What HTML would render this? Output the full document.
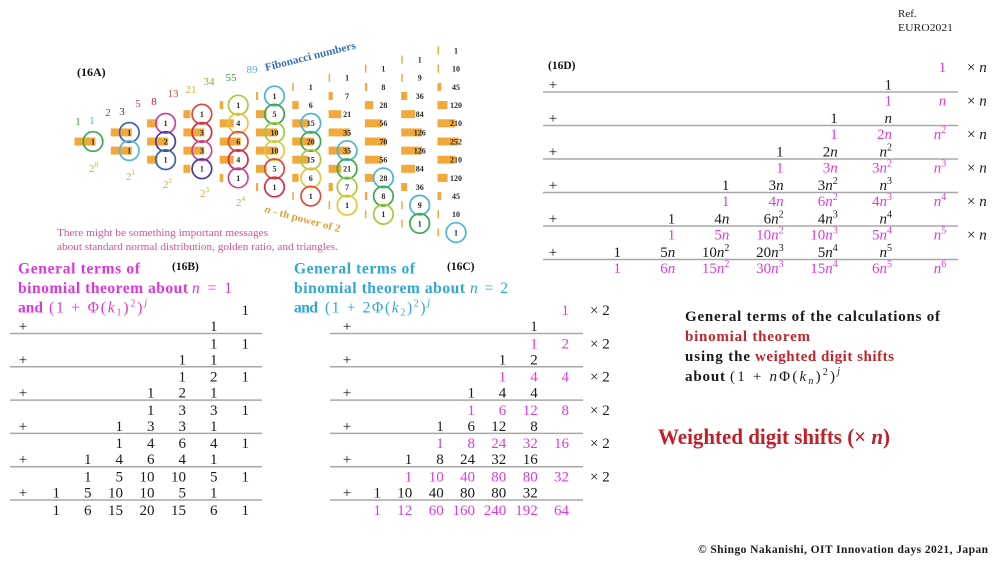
<!DOCTYPE html>
<html><head><meta charset="utf-8"><style>
html,body{margin:0;padding:0;background:#fff;}
svg{display:block;}
.t{font-family:"Liberation Serif",serif;}
.tb text{font-family:"Liberation Serif",serif;font-size:15px;text-anchor:end;fill:#1a1a1a;}
.tb .m{fill:#dc3cdc;}
.i{font-style:italic;}
.s{font-size:10px;}
.num text{font-family:"Liberation Serif",serif;font-weight:bold;font-size:8px;text-anchor:middle;fill:#2a2a2a;}
</style></head><body>
<svg width="1000" height="563" viewBox="0 0 1000 563" xmlns="http://www.w3.org/2000/svg">
<rect width="1000" height="563" fill="#fff"/>

<!-- Ref -->
<text class="t" x="898" y="17" font-size="11" fill="#222">Ref.</text>
<text class="t" x="898" y="31" font-size="11" fill="#222" textLength="55" lengthAdjust="spacingAndGlyphs">EURO2021</text>

<!-- 16A -->
<text class="t" x="77" y="76" font-size="12" font-weight="bold" fill="#111">(16A)</text>
<g class="t" font-size="11" text-anchor="middle">
<text x="78" y="125" fill="#3a9a4a">1</text>
<text x="92" y="124" fill="#50b0c0">1</text>
<text x="108" y="116" fill="#3a5aa8">2</text>
<text x="122" y="115" fill="#2a3c80">3</text>
<text x="138" y="107" fill="#c84098">5</text>
<text x="154" y="105" fill="#c82050">8</text>
<text x="173" y="97" fill="#c84a44">13</text>
<text x="191" y="93" fill="#e0b040">21</text>
<text x="209" y="85" fill="#80b040">34</text>
<text x="231" y="81" fill="#40a050">55</text>
<text x="252" y="73" fill="#60b0d0">89</text>
</g>
<text class="t" x="266" y="71" font-size="11" font-weight="bold" fill="#3b6fb0" transform="rotate(-14 266 71)" textLength="93" lengthAdjust="spacingAndGlyphs">Fibonacci numbers</text>

<!-- bars -->
<g fill="#f2a93b" transform="translate(0,-0.5)">
<rect x="74.5" y="138" width="21" height="8"/>
<rect x="110.8" y="128.9" width="21" height="8"/><rect x="110.8" y="147.1" width="21" height="8"/>
<rect x="147.1" y="119.8" width="10.5" height="8"/><rect x="147.1" y="138" width="21" height="8"/><rect x="147.1" y="156.2" width="10.5" height="8"/>
<rect x="183.4" y="110.7" width="7" height="8"/><rect x="183.4" y="128.9" width="21" height="8"/><rect x="183.4" y="147.1" width="21" height="8"/><rect x="183.4" y="165.3" width="7" height="8"/>
<rect x="219.7" y="101.6" width="3.5" height="8"/><rect x="219.7" y="119.8" width="14" height="8"/><rect x="219.7" y="138" width="21" height="8"/><rect x="219.7" y="156.2" width="14" height="8"/><rect x="219.7" y="174.4" width="3.5" height="8"/>
<rect x="256" y="92.5" width="2.1" height="8"/><rect x="256" y="110.7" width="10.5" height="8"/><rect x="256" y="128.9" width="21" height="8"/><rect x="256" y="147.1" width="21" height="8"/><rect x="256" y="165.3" width="10.5" height="8"/><rect x="256" y="183.5" width="2.1" height="8"/>
<rect x="292.3" y="83.4" width="1.5" height="8"/><rect x="292.3" y="101.6" width="6.3" height="8"/><rect x="292.3" y="119.8" width="15.8" height="8"/><rect x="292.3" y="138" width="21" height="8"/><rect x="292.3" y="156.2" width="15.8" height="8"/><rect x="292.3" y="174.4" width="6.3" height="8"/><rect x="292.3" y="192.6" width="1.5" height="8"/>
<rect x="328.6" y="74.3" width="1.5" height="8"/><rect x="328.6" y="92.5" width="4.2" height="8"/><rect x="328.6" y="110.7" width="12.6" height="8"/><rect x="328.6" y="128.9" width="21" height="8"/><rect x="328.6" y="147.1" width="21" height="8"/><rect x="328.6" y="165.3" width="12.6" height="8"/><rect x="328.6" y="183.5" width="4.2" height="8"/><rect x="328.6" y="201.7" width="1.5" height="8"/>
<rect x="364.9" y="65.2" width="1.5" height="8"/><rect x="364.9" y="83.4" width="2.4" height="8"/><rect x="364.9" y="101.6" width="8.4" height="8"/><rect x="364.9" y="119.8" width="16.8" height="8"/><rect x="364.9" y="138" width="21" height="8"/><rect x="364.9" y="156.2" width="16.8" height="8"/><rect x="364.9" y="174.4" width="8.4" height="8"/><rect x="364.9" y="192.6" width="2.4" height="8"/><rect x="364.9" y="210.8" width="1.5" height="8"/>
<rect x="401.2" y="56.1" width="1.5" height="8"/><rect x="401.2" y="74.3" width="1.5" height="8"/><rect x="401.2" y="92.5" width="6" height="8"/><rect x="401.2" y="110.7" width="14" height="8"/><rect x="401.2" y="128.9" width="21" height="8"/><rect x="401.2" y="147.1" width="21" height="8"/><rect x="401.2" y="165.3" width="14" height="8"/><rect x="401.2" y="183.5" width="6" height="8"/><rect x="401.2" y="201.7" width="1.5" height="8"/><rect x="401.2" y="219.9" width="1.5" height="8"/>
<rect x="437.5" y="47" width="1.5" height="8"/><rect x="437.5" y="65.2" width="1.5" height="8"/><rect x="437.5" y="83.4" width="3.75" height="8"/><rect x="437.5" y="101.6" width="10" height="8"/><rect x="437.5" y="119.8" width="17.5" height="8"/><rect x="437.5" y="138" width="21" height="8"/><rect x="437.5" y="156.2" width="17.5" height="8"/><rect x="437.5" y="174.4" width="10" height="8"/><rect x="437.5" y="192.6" width="3.75" height="8"/><rect x="437.5" y="210.8" width="1.5" height="8"/><rect x="437.5" y="229" width="1.5" height="8"/>
</g>

<!-- circles -->
<g fill="none" stroke-width="1.7">
<circle cx="93" cy="141.5" r="9.8" stroke="#3aa84a"/>
<circle cx="129.3" cy="132.4" r="9.8" stroke="#3a62b4"/><circle cx="129.3" cy="150.6" r="9.8" stroke="#56b8cc"/>
<circle cx="165.6" cy="123.3" r="9.8" stroke="#c8449c"/><circle cx="165.6" cy="141.5" r="9.8" stroke="#463c9c"/><circle cx="165.6" cy="159.7" r="9.8" stroke="#3a62b4"/>
<circle cx="201.9" cy="114.2" r="9.8" stroke="#dc4a38"/><circle cx="201.9" cy="132.4" r="9.8" stroke="#d42a44"/><circle cx="201.9" cy="150.6" r="9.8" stroke="#c8449c"/><circle cx="201.9" cy="168.8" r="9.8" stroke="#463c9c"/>
<circle cx="238.2" cy="105.1" r="9.8" stroke="#a8c83c"/><circle cx="238.2" cy="123.3" r="9.8" stroke="#e8c43a"/><circle cx="238.2" cy="141.5" r="9.8" stroke="#dc4a38"/><circle cx="238.2" cy="159.7" r="9.8" stroke="#d42a44"/><circle cx="238.2" cy="177.9" r="9.8" stroke="#c8449c"/>
<circle cx="274.5" cy="96" r="9.8" stroke="#4ab4d4"/><circle cx="274.5" cy="114.2" r="9.8" stroke="#3aa84a"/><circle cx="274.5" cy="132.4" r="9.8" stroke="#a8c83c"/><circle cx="274.5" cy="150.6" r="9.8" stroke="#e8c43a"/><circle cx="274.5" cy="168.8" r="9.8" stroke="#dc4a38"/><circle cx="274.5" cy="187" r="9.8" stroke="#d42a44"/>
<circle cx="310.8" cy="123.3" r="9.8" stroke="#4ab4d4"/><circle cx="310.8" cy="141.5" r="9.8" stroke="#3aa84a"/><circle cx="310.8" cy="159.7" r="9.8" stroke="#a8c83c"/><circle cx="310.8" cy="177.9" r="9.8" stroke="#e8c43a"/><circle cx="310.8" cy="196.1" r="9.8" stroke="#dc4a38"/>
<circle cx="347.1" cy="150.6" r="9.8" stroke="#4ab4d4"/><circle cx="347.1" cy="168.8" r="9.8" stroke="#3aa84a"/><circle cx="347.1" cy="187" r="9.8" stroke="#a8c83c"/><circle cx="347.1" cy="205.2" r="9.8" stroke="#e8c43a"/>
<circle cx="383.4" cy="177.9" r="9.8" stroke="#4ab4d4"/><circle cx="383.4" cy="196.1" r="9.8" stroke="#3aa84a"/><circle cx="383.4" cy="214.3" r="9.8" stroke="#a8c83c"/>
<circle cx="419.7" cy="205.2" r="9.8" stroke="#4ab4d4"/><circle cx="419.7" cy="223.4" r="9.8" stroke="#3aa84a"/>
<circle cx="456" cy="232.5" r="9.8" stroke="#4ab4d4"/>
</g>

<!-- numbers -->
<g class="num">
<text x="93" y="144.4">1</text>
<text x="129.3" y="135.3">1</text><text x="129.3" y="153.5">1</text>
<text x="165.6" y="126.2">1</text><text x="165.6" y="144.4">2</text><text x="165.6" y="162.6">1</text>
<text x="201.9" y="117.1">1</text><text x="201.9" y="135.3">3</text><text x="201.9" y="153.5">3</text><text x="201.9" y="171.7">1</text>
<text x="238.2" y="108">1</text><text x="238.2" y="126.2">4</text><text x="238.2" y="144.4">6</text><text x="238.2" y="162.6">4</text><text x="238.2" y="180.8">1</text>
<text x="274.5" y="98.9">1</text><text x="274.5" y="117.1">5</text><text x="274.5" y="135.3">10</text><text x="274.5" y="153.5">10</text><text x="274.5" y="171.7">5</text><text x="274.5" y="189.9">1</text>
<text x="310.8" y="89.8">1</text><text x="310.8" y="108">6</text><text x="310.8" y="126.2">15</text><text x="310.8" y="144.4">20</text><text x="310.8" y="162.6">15</text><text x="310.8" y="180.8">6</text><text x="310.8" y="199">1</text>
<text x="347.1" y="80.7">1</text><text x="347.1" y="98.9">7</text><text x="347.1" y="117.1">21</text><text x="347.1" y="135.3">35</text><text x="347.1" y="153.5">35</text><text x="347.1" y="171.7">21</text><text x="347.1" y="189.9">7</text><text x="347.1" y="208.1">1</text>
<text x="383.4" y="71.6">1</text><text x="383.4" y="89.8">8</text><text x="383.4" y="108">28</text><text x="383.4" y="126.2">56</text><text x="383.4" y="144.4">70</text><text x="383.4" y="162.6">56</text><text x="383.4" y="180.8">28</text><text x="383.4" y="199">8</text><text x="383.4" y="217.2">1</text>
<text x="419.7" y="62.5">1</text><text x="419.7" y="80.7">9</text><text x="419.7" y="98.9">36</text><text x="419.7" y="117.1">84</text><text x="419.7" y="135.3">126</text><text x="419.7" y="153.5">126</text><text x="419.7" y="171.7">84</text><text x="419.7" y="189.9">36</text><text x="419.7" y="208.1">9</text><text x="419.7" y="226.3">1</text>
<text x="456" y="53.4">1</text><text x="456" y="71.6">10</text><text x="456" y="89.8">45</text><text x="456" y="108">120</text><text x="456" y="126.2">210</text><text x="456" y="144.4">252</text><text x="456" y="162.6">210</text><text x="456" y="180.8">120</text><text x="456" y="199">45</text><text x="456" y="217.2">10</text><text x="456" y="235.4">1</text>
</g>

<!-- powers of 2 -->
<g class="t" font-size="11" fill="#d9a53c">
<text x="89" y="172">2<tspan font-size="7" dy="-5">0</tspan></text>
<text x="126" y="180">2<tspan font-size="7" dy="-5">1</tspan></text>
<text x="163" y="188">2<tspan font-size="7" dy="-5">2</tspan></text>
<text x="200" y="197">2<tspan font-size="7" dy="-5">3</tspan></text>
<text x="236" y="206">2<tspan font-size="7" dy="-5">4</tspan></text>
</g>
<text class="t" x="264" y="212" font-size="10.5" font-weight="bold" fill="#e0a030" transform="rotate(15 264 212)" textLength="78" lengthAdjust="spacingAndGlyphs"><tspan font-style="italic">n</tspan> - th power of 2</text>

<text class="t" x="57" y="236" font-size="10.5" fill="#d4509e" textLength="211" lengthAdjust="spacingAndGlyphs">There might be something important messages</text>
<text class="t" x="57" y="250" font-size="10.5" fill="#d4509e" textLength="281" lengthAdjust="spacingAndGlyphs">about standard normal distribution, golden ratio, and triangles.</text>

<!-- 16D -->
<text class="t" x="548" y="69" font-size="11.5" font-weight="bold" fill="#111">(16D)</text>
<g stroke="#a8a8a8" stroke-width="1.5">
<line x1="543" y1="92" x2="958" y2="92"/>
<line x1="543" y1="125.5" x2="958" y2="125.5"/>
<line x1="543" y1="159" x2="958" y2="159"/>
<line x1="543" y1="192.5" x2="958" y2="192.5"/>
<line x1="543" y1="226" x2="958" y2="226"/>
<line x1="543" y1="259.5" x2="958" y2="259.5"/>
</g>
<g class="tb">
<text x="553" y="89.5" style="text-anchor:middle">+</text>
<text x="553" y="123" style="text-anchor:middle">+</text>
<text x="553" y="156.5" style="text-anchor:middle">+</text>
<text x="553" y="190" style="text-anchor:middle">+</text>
<text x="553" y="223.5" style="text-anchor:middle">+</text>
<text x="553" y="257" style="text-anchor:middle">+</text>
<text x="967" y="72" style="text-anchor:start">× <tspan class="i">n</tspan></text>
<text x="967" y="105.5" style="text-anchor:start">× <tspan class="i">n</tspan></text>
<text x="967" y="139" style="text-anchor:start">× <tspan class="i">n</tspan></text>
<text x="967" y="172.5" style="text-anchor:start">× <tspan class="i">n</tspan></text>
<text x="967" y="206" style="text-anchor:start">× <tspan class="i">n</tspan></text>
<text x="967" y="239.5" style="text-anchor:start">× <tspan class="i">n</tspan></text>
<!-- g0 -->
<text class="m" x="946.2" y="72">1</text>
<text x="892" y="89.5">1</text>
<!-- g1 -->
<text class="m" x="892" y="105.5">1</text><text class="m" x="946.2" y="105.5"><tspan class="i">n</tspan></text>
<text x="837.8" y="123">1</text><text x="892" y="123"><tspan class="i">n</tspan></text>
<!-- g2 -->
<text class="m" x="837.8" y="139">1</text><text class="m" x="892" y="139">2<tspan class="i">n</tspan></text><text class="m" x="946.2" y="139"><tspan class="i">n</tspan><tspan class="s" dy="-6">2</tspan></text>
<text x="783.6" y="156.5">1</text><text x="837.8" y="156.5">2<tspan class="i">n</tspan></text><text x="892" y="156.5"><tspan class="i">n</tspan><tspan class="s" dy="-6">2</tspan></text>
<!-- g3 -->
<text class="m" x="783.6" y="172.5">1</text><text class="m" x="837.8" y="172.5">3<tspan class="i">n</tspan></text><text class="m" x="892" y="172.5">3<tspan class="i">n</tspan><tspan class="s" dy="-6">2</tspan></text><text class="m" x="946.2" y="172.5"><tspan class="i">n</tspan><tspan class="s" dy="-6">3</tspan></text>
<text x="729.4" y="190">1</text><text x="783.6" y="190">3<tspan class="i">n</tspan></text><text x="837.8" y="190">3<tspan class="i">n</tspan><tspan class="s" dy="-6">2</tspan></text><text x="892" y="190"><tspan class="i">n</tspan><tspan class="s" dy="-6">3</tspan></text>
<!-- g4 -->
<text class="m" x="729.4" y="206">1</text><text class="m" x="783.6" y="206">4<tspan class="i">n</tspan></text><text class="m" x="837.8" y="206">6<tspan class="i">n</tspan><tspan class="s" dy="-6">2</tspan></text><text class="m" x="892" y="206">4<tspan class="i">n</tspan><tspan class="s" dy="-6">3</tspan></text><text class="m" x="946.2" y="206"><tspan class="i">n</tspan><tspan class="s" dy="-6">4</tspan></text>
<text x="675.2" y="223.5">1</text><text x="729.4" y="223.5">4<tspan class="i">n</tspan></text><text x="783.6" y="223.5">6<tspan class="i">n</tspan><tspan class="s" dy="-6">2</tspan></text><text x="837.8" y="223.5">4<tspan class="i">n</tspan><tspan class="s" dy="-6">3</tspan></text><text x="892" y="223.5"><tspan class="i">n</tspan><tspan class="s" dy="-6">4</tspan></text>
<!-- g5 -->
<text class="m" x="675.2" y="239.5">1</text><text class="m" x="729.4" y="239.5">5<tspan class="i">n</tspan></text><text class="m" x="783.6" y="239.5">10<tspan class="i">n</tspan><tspan class="s" dy="-6">2</tspan></text><text class="m" x="837.8" y="239.5">10<tspan class="i">n</tspan><tspan class="s" dy="-6">3</tspan></text><text class="m" x="892" y="239.5">5<tspan class="i">n</tspan><tspan class="s" dy="-6">4</tspan></text><text class="m" x="946.2" y="239.5"><tspan class="i">n</tspan><tspan class="s" dy="-6">5</tspan></text>
<text x="621" y="257">1</text><text x="675.2" y="257">5<tspan class="i">n</tspan></text><text x="729.4" y="257">10<tspan class="i">n</tspan><tspan class="s" dy="-6">2</tspan></text><text x="783.6" y="257">20<tspan class="i">n</tspan><tspan class="s" dy="-6">3</tspan></text><text x="837.8" y="257">5<tspan class="i">n</tspan><tspan class="s" dy="-6">4</tspan></text><text x="892" y="257"><tspan class="i">n</tspan><tspan class="s" dy="-6">5</tspan></text>
<!-- g6 -->
<text class="m" x="621" y="273">1</text><text class="m" x="675.2" y="273">6<tspan class="i">n</tspan></text><text class="m" x="729.4" y="273">15<tspan class="i">n</tspan><tspan class="s" dy="-6">2</tspan></text><text class="m" x="783.6" y="273">30<tspan class="i">n</tspan><tspan class="s" dy="-6">3</tspan></text><text class="m" x="837.8" y="273">15<tspan class="i">n</tspan><tspan class="s" dy="-6">4</tspan></text><text class="m" x="892" y="273">6<tspan class="i">n</tspan><tspan class="s" dy="-6">5</tspan></text><text class="m" x="946.2" y="273"><tspan class="i">n</tspan><tspan class="s" dy="-6">6</tspan></text>
</g>

<!-- 16B title -->
<g class="t" fill="#dc36dc" font-size="15.5">
<text x="18" y="273.5" font-weight="bold" textLength="122" lengthAdjust="spacing">General terms of</text>
<text x="18" y="293" font-weight="bold" textLength="170" lengthAdjust="spacing">binomial theorem about</text>
<text x="192" y="293" textLength="40" lengthAdjust="spacing"><tspan class="i">n</tspan> = 1</text>
<text x="18" y="312.5" font-weight="bold" textLength="25" lengthAdjust="spacing">and</text>
<text x="49" y="312.5" textLength="98" lengthAdjust="spacing">(1 + Φ(<tspan class="i">k</tspan><tspan font-size="10" dy="3">1</tspan><tspan dy="-3">)</tspan><tspan font-size="10" dy="-6">2</tspan><tspan dy="6">)</tspan><tspan font-size="10" dy="-7" class="i">j</tspan></text>
</g>
<text class="t" x="172" y="270" font-size="11.5" font-weight="bold" fill="#111">(16B)</text>

<!-- 16B table -->
<g stroke="#a8a8a8" stroke-width="1.5">
<line x1="10" y1="333.5" x2="262" y2="333.5"/>
<line x1="10" y1="366.8" x2="262" y2="366.8"/>
<line x1="10" y1="400.1" x2="262" y2="400.1"/>
<line x1="10" y1="433.4" x2="262" y2="433.4"/>
<line x1="10" y1="466.7" x2="262" y2="466.7"/>
<line x1="10" y1="500" x2="262" y2="500"/>
</g>
<g class="tb">
<text x="23" y="331" style="text-anchor:middle">+</text>
<text x="23" y="364.3" style="text-anchor:middle">+</text>
<text x="23" y="397.6" style="text-anchor:middle">+</text>
<text x="23" y="430.9" style="text-anchor:middle">+</text>
<text x="23" y="464.2" style="text-anchor:middle">+</text>
<text x="23" y="497.5" style="text-anchor:middle">+</text>
<text x="249" y="315">1</text>
<text x="217.5" y="331">1</text>
<text x="217.5" y="348.3">1</text><text x="249" y="348.3">1</text>
<text x="186" y="364.3">1</text><text x="217.5" y="364.3">1</text>
<text x="186" y="381.6">1</text><text x="217.5" y="381.6">2</text><text x="249" y="381.6">1</text>
<text x="154.5" y="397.6">1</text><text x="186" y="397.6">2</text><text x="217.5" y="397.6">1</text>
<text x="154.5" y="414.9">1</text><text x="186" y="414.9">3</text><text x="217.5" y="414.9">3</text><text x="249" y="414.9">1</text>
<text x="123" y="430.9">1</text><text x="154.5" y="430.9">3</text><text x="186" y="430.9">3</text><text x="217.5" y="430.9">1</text>
<text x="123" y="448.2">1</text><text x="154.5" y="448.2">4</text><text x="186" y="448.2">6</text><text x="217.5" y="448.2">4</text><text x="249" y="448.2">1</text>
<text x="91.5" y="464.2">1</text><text x="123" y="464.2">4</text><text x="154.5" y="464.2">6</text><text x="186" y="464.2">4</text><text x="217.5" y="464.2">1</text>
<text x="91.5" y="481.5">1</text><text x="123" y="481.5">5</text><text x="154.5" y="481.5">10</text><text x="186" y="481.5">10</text><text x="217.5" y="481.5">5</text><text x="249" y="481.5">1</text>
<text x="60" y="497.5">1</text><text x="91.5" y="497.5">5</text><text x="123" y="497.5">10</text><text x="154.5" y="497.5">10</text><text x="186" y="497.5">5</text><text x="217.5" y="497.5">1</text>
<text x="60" y="514.8">1</text><text x="91.5" y="514.8">6</text><text x="123" y="514.8">15</text><text x="154.5" y="514.8">20</text><text x="186" y="514.8">15</text><text x="217.5" y="514.8">6</text><text x="249" y="514.8">1</text>
</g>

<!-- 16C title -->
<g class="t" fill="#2ea6d6" font-size="15.5">
<text x="294" y="273.5" font-weight="bold" textLength="121" lengthAdjust="spacing">General terms of</text>
<text x="294" y="293" font-weight="bold" textLength="171" lengthAdjust="spacing">binomial theorem about</text>
<text x="470" y="293" textLength="38" lengthAdjust="spacing"><tspan class="i">n</tspan> = 2</text>
<text x="294" y="312.5" font-weight="bold" textLength="24" lengthAdjust="spacing">and</text>
<text x="325" y="312.5" textLength="105" lengthAdjust="spacing">(1 + 2Φ(<tspan class="i">k</tspan><tspan font-size="10" dy="3">2</tspan><tspan dy="-3">)</tspan><tspan font-size="10" dy="-6">2</tspan><tspan dy="6">)</tspan><tspan font-size="10" dy="-7" class="i">j</tspan></text>
</g>
<text class="t" x="447" y="270" font-size="11.5" font-weight="bold" fill="#111">(16C)</text>

<!-- 16C table -->
<g stroke="#a8a8a8" stroke-width="1.5">
<line x1="330" y1="333.5" x2="583" y2="333.5"/>
<line x1="330" y1="366.8" x2="583" y2="366.8"/>
<line x1="330" y1="400.1" x2="583" y2="400.1"/>
<line x1="330" y1="433.4" x2="583" y2="433.4"/>
<line x1="330" y1="466.7" x2="583" y2="466.7"/>
<line x1="330" y1="500" x2="583" y2="500"/>
</g>
<g class="tb">
<text x="347" y="331" style="text-anchor:middle">+</text>
<text x="347" y="364.3" style="text-anchor:middle">+</text>
<text x="347" y="397.6" style="text-anchor:middle">+</text>
<text x="347" y="430.9" style="text-anchor:middle">+</text>
<text x="347" y="464.2" style="text-anchor:middle">+</text>
<text x="347" y="497.5" style="text-anchor:middle">+</text>
<text x="590" y="315" style="text-anchor:start">× 2</text>
<text x="590" y="348.3" style="text-anchor:start">× 2</text>
<text x="590" y="381.6" style="text-anchor:start">× 2</text>
<text x="590" y="414.9" style="text-anchor:start">× 2</text>
<text x="590" y="448.2" style="text-anchor:start">× 2</text>
<text x="590" y="481.5" style="text-anchor:start">× 2</text>
<text class="m" x="569" y="315">1</text>
<text x="537.7" y="331">1</text>
<text class="m" x="537.7" y="348.3">1</text><text class="m" x="569" y="348.3">2</text>
<text x="506.3" y="364.3">1</text><text x="537.7" y="364.3">2</text>
<text class="m" x="506.3" y="381.6">1</text><text class="m" x="537.7" y="381.6">4</text><text class="m" x="569" y="381.6">4</text>
<text x="475" y="397.6">1</text><text x="506.3" y="397.6">4</text><text x="537.7" y="397.6">4</text>
<text class="m" x="475" y="414.9">1</text><text class="m" x="506.3" y="414.9">6</text><text class="m" x="537.7" y="414.9">12</text><text class="m" x="569" y="414.9">8</text>
<text x="443.7" y="430.9">1</text><text x="475" y="430.9">6</text><text x="506.3" y="430.9">12</text><text x="537.7" y="430.9">8</text>
<text class="m" x="443.7" y="448.2">1</text><text class="m" x="475" y="448.2">8</text><text class="m" x="506.3" y="448.2">24</text><text class="m" x="537.7" y="448.2">32</text><text class="m" x="569" y="448.2">16</text>
<text x="412.3" y="464.2">1</text><text x="443.7" y="464.2">8</text><text x="475" y="464.2">24</text><text x="506.3" y="464.2">32</text><text x="537.7" y="464.2">16</text>
<text class="m" x="412.3" y="481.5">1</text><text class="m" x="443.7" y="481.5">10</text><text class="m" x="475" y="481.5">40</text><text class="m" x="506.3" y="481.5">80</text><text class="m" x="537.7" y="481.5">80</text><text class="m" x="569" y="481.5">32</text>
<text x="381" y="497.5">1</text><text x="412.3" y="497.5">10</text><text x="443.7" y="497.5">40</text><text x="475" y="497.5">80</text><text x="506.3" y="497.5">80</text><text x="537.7" y="497.5">32</text>
<text class="m" x="381" y="514.8">1</text><text class="m" x="412.3" y="514.8">12</text><text class="m" x="443.7" y="514.8">60</text><text class="m" x="475" y="514.8">160</text><text class="m" x="506.3" y="514.8">240</text><text class="m" x="537.7" y="514.8">192</text><text class="m" x="569" y="514.8">64</text>
</g>

<!-- right text -->
<g class="t" font-size="15" font-weight="bold">
<text x="685" y="321" fill="#1a1a1a" textLength="255" lengthAdjust="spacing">General terms of the calculations of</text>
<text x="685" y="341" fill="#c0262c" textLength="125" lengthAdjust="spacing">binomial theorem</text>
<text x="685" y="361" fill="#1a1a1a" textLength="65" lengthAdjust="spacing">using the</text>
<text x="755" y="361" fill="#c0262c" textLength="139" lengthAdjust="spacing">weighted digit shifts</text>
<text x="685" y="381" fill="#1a1a1a" textLength="40" lengthAdjust="spacing">about</text>
</g>
<text class="t" x="730" y="381" font-size="15" fill="#1a1a1a" textLength="110" lengthAdjust="spacing">(1 + <tspan class="i">n</tspan>Φ(<tspan class="i">k</tspan><tspan font-size="10" dy="3" class="i">n</tspan><tspan dy="-3">)</tspan><tspan font-size="10" dy="-6">2</tspan><tspan dy="6">)</tspan><tspan font-size="10" dy="-7" class="i">j</tspan></text>

<text class="t" x="658" y="444" font-size="22" font-weight="bold" fill="#c0202a" textLength="232" lengthAdjust="spacingAndGlyphs">Weighted digit shifts (× <tspan class="i">n</tspan>)</text>

<text class="t" x="698" y="553" font-size="11.5" font-weight="bold" fill="#1a1a1a" textLength="290" lengthAdjust="spacing">© Shingo Nakanishi, OIT Innovation  days 2021, Japan</text>
</svg>
</body></html>
